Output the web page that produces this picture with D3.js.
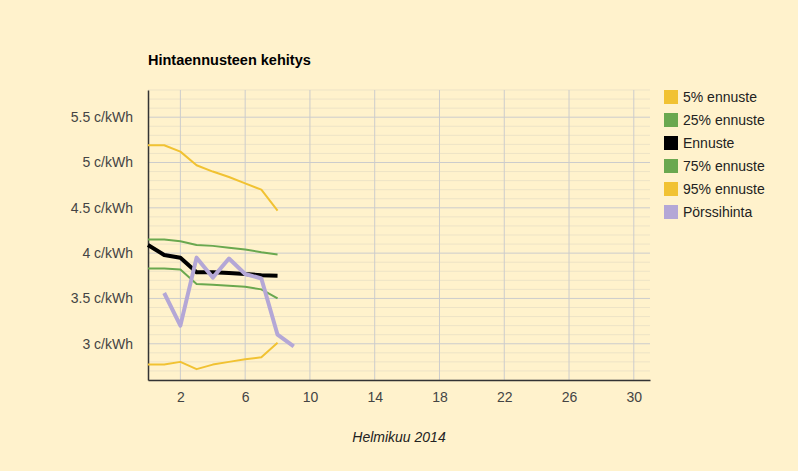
<!DOCTYPE html>
<html>
<head>
<meta charset="utf-8">
<script src="https://cdn.jsdelivr.net/npm/d3@7"></script>
<style>
  body { margin: 0; background: #fff2cc; }
  svg { display: block; font-family: "Liberation Sans", Arial, sans-serif; }
</style>
</head>
<body>
<svg width="798" height="471"></svg>
<script>
const svg = d3.select('svg');
svg.style('background-color', '#fff2cc');

// forecast days (0..8) and market price days (1..9)
const forecastDays = [0, 1, 2, 3, 4, 5, 6, 7, 8];
const priceDays = [1, 2, 3, 4, 5, 6, 7, 8, 9];

const p5 = [2.77, 2.77, 2.80, 2.72, 2.77, 2.80, 2.83, 2.85, 3.01];
const p25 = [3.83, 3.83, 3.82, 3.66, 3.65, 3.64, 3.63, 3.60, 3.50];
const forecast = [4.09, 3.98, 3.95, 3.79, 3.79, 3.78, 3.77, 3.755, 3.75];
const p75 = [4.15, 4.15, 4.13, 4.09, 4.08, 4.06, 4.04, 4.01, 3.985];
const p95 = [5.19, 5.19, 5.12, 4.97, 4.90, 4.84, 4.77, 4.70, 4.47];
const spotPrice = [3.56, 3.20, 3.95, 3.73, 3.94, 3.77, 3.72, 3.10, 2.97];

const xTicks = [2, 6, 10, 14, 18, 22, 26, 30];
const yTicks = [3, 3.5, 4, 4.5, 5, 5.5];

const legendNames = ['5% ennuste', '25% ennuste', 'Ennuste', '75% ennuste', '95% ennuste', 'Pörssihinta'];
const legendColors = ['#f1c232', '#6aa84f', '#000000', '#6aa84f', '#f1c232', '#b4a7d6'];

const plotLeft = 148, plotRight = 650, plotTop = 90, plotBottom = 380;

const x = d3.scaleLinear().domain([0, 31]).range([plotLeft, plotRight]);
const y = d3.scaleLinear().domain([2.6, 5.8]).range([plotBottom, plotTop]);

// title
svg.append('text')
  .attr('x', plotLeft)
  .attr('y', 65)
  .attr('font-size', 14.5)
  .attr('font-weight', 'bold')
  .attr('fill', '#000')
  .text('Hintaennusteen kehitys');

// minor horizontal gridlines every 0.1
const minor = d3.range(26, 59).map(d => d / 10).filter(d => Math.round(d * 10) % 5 !== 0);
svg.append('g')
  .selectAll('line')
  .data(minor)
  .join('line')
    .attr('x1', plotLeft).attr('x2', plotRight)
    .attr('y1', d => y(d)).attr('y2', d => y(d))
    .attr('stroke', '#ede3c6')
    .attr('stroke-width', 1);

// major gridlines
svg.append('g')
  .selectAll('line')
  .data(yTicks)
  .join('line')
    .attr('x1', plotLeft).attr('x2', plotRight)
    .attr('y1', d => y(d)).attr('y2', d => y(d))
    .attr('stroke', '#cccccc');

svg.append('g')
  .selectAll('line')
  .data(xTicks)
  .join('line')
    .attr('x1', d => x(d)).attr('x2', d => x(d))
    .attr('y1', plotTop).attr('y2', plotBottom)
    .attr('stroke', '#cccccc');

// axes
const xAxis = svg.append('g')
  .attr('transform', `translate(0, ${plotBottom})`)
  .call(d3.axisBottom(x).tickValues(xTicks).tickSize(0).tickPadding(12).tickFormat(d3.format('d')));
xAxis.select('.domain').attr('stroke', '#333').attr('stroke-width', 1.5);
xAxis.selectAll('text').attr('font-size', 14).attr('fill', '#444');
xAxis.attr('font-family', null);

const yAxis = svg.append('g')
  .attr('transform', `translate(${plotLeft}, 0)`)
  .call(d3.axisLeft(y).tickValues(yTicks).tickSize(0).tickPadding(15).tickFormat(d => `${d} c/kWh`));
yAxis.select('.domain').attr('stroke', '#333').attr('stroke-width', 1.5);
yAxis.selectAll('text').attr('font-size', 14).attr('fill', '#444');
yAxis.attr('font-family', null);

// series lines
const line = d3.line()
  .x(d => x(d[0]))
  .y(d => y(d[1]));

const series = [
  { days: forecastDays, values: p5, color: legendColors[0], width: 2 },
  { days: forecastDays, values: p25, color: legendColors[1], width: 2 },
  { days: forecastDays, values: p75, color: legendColors[3], width: 2 },
  { days: forecastDays, values: p95, color: legendColors[4], width: 2 },
  { days: forecastDays, values: forecast, color: legendColors[2], width: 4 },
  { days: priceDays, values: spotPrice, color: legendColors[5], width: 4 }
];

svg.append('g')
  .selectAll('path')
  .data(series)
  .join('path')
    .attr('d', s => line(s.days.map((d, i) => [d, s.values[i]])))
    .attr('fill', 'none')
    .attr('stroke', s => s.color)
    .attr('stroke-width', s => s.width)
    .attr('stroke-linejoin', 'round');

// x axis label
svg.append('text')
  .attr('x', (plotLeft + plotRight) / 2)
  .attr('y', 442)
  .attr('text-anchor', 'middle')
  .attr('font-size', 14)
  .attr('font-style', 'italic')
  .attr('fill', '#222')
  .text('Helmikuu 2014');

// legend
const legend = svg.append('g')
  .selectAll('g')
  .data(legendNames)
  .join('g')
    .attr('transform', (d, i) => `translate(664, ${90 + i * 23})`);

legend.append('rect')
  .attr('width', 14)
  .attr('height', 14)
  .attr('fill', (d, i) => legendColors[i]);

legend.append('text')
  .attr('x', 19)
  .attr('y', 12)
  .attr('font-size', 14)
  .attr('fill', '#222')
  .text(d => d);
</script>
</body>
</html>
